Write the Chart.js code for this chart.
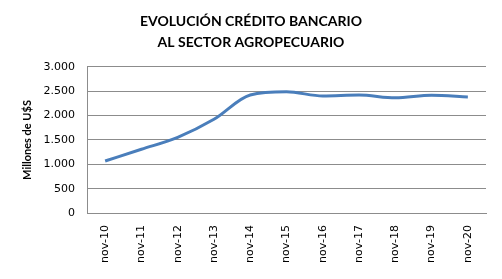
<!DOCTYPE html>
<html>
<head>
<meta charset="utf-8">
<script src="https://cdn.jsdelivr.net/npm/chart.js@4"></script>
<style>
  html, body { margin: 0; padding: 0; background: #fff; }
  #wrap { width: 502px; height: 279px; }
</style>
</head>
<body>
<div id="wrap"><canvas id="myChart" width="502" height="279"></canvas></div>
<script>
// data (millones de U$S)
const categories = ['nov-10', 'nov-11', 'nov-12', 'nov-13', 'nov-14', 'nov-15', 'nov-16', 'nov-17', 'nov-18', 'nov-19', 'nov-20'];
const credito = [1068, 1310, 1555, 1925, 2425, 2490, 2405, 2425, 2365, 2418, 2385];
const yTicks = [0, 500, 1000, 1500, 2000, 2500, 3000];

const gridColor = '#8c8c8c';

var ctx = document.getElementById('myChart').getContext('2d');

var lineChart = new Chart(ctx, {
    type: 'line',
    data: {
        labels: categories,
        datasets: [{
            label: 'Crédito bancario',
            data: credito,
            borderColor: '#4a7ebb',
            borderWidth: 3,
            pointRadius: 0,
            tension: 0.4,
            cubicInterpolationMode: 'monotone',
            fill: false,
        }],
    },
    options: {
        responsive: false,
        animation: false,
        layout: {
            padding: { left: 16, right: 16, top: 0, bottom: 0 }
        },
        plugins: {
            legend: { display: false },
            tooltip: { enabled: false },
            title: {
                display: true,
                text: ['EVOLUCIÓN CRÉDITO BANCARIO', 'AL SECTOR AGROPECUARIO'],
                color: '#000',
                font: { family: 'Lato', size: 14, weight: 'bold', lineHeight: 1.57 },
                padding: { top: 10, bottom: 13 }
            }
        },
        scales: {
            x: {
                offset: true,
                grid: { display: false, drawTicks: false },
                border: { display: true, color: gridColor, width: 1 },
                ticks: {
                    color: '#000',
                    font: { family: 'DejaVu Sans', size: 11 },
                    minRotation: 90,
                    maxRotation: 90,
                    padding: 12,
                    autoSkip: false
                },
                afterFit: function (scale) { scale.height = 66; }
            },
            y: {
                min: 0,
                max: 3000,
                afterBuildTicks: function (scale) {
                    scale.ticks = yTicks.map(v => ({ value: v }));
                },
                grid: { color: gridColor, drawTicks: false, lineWidth: 1 },
                border: { display: true, color: gridColor },
                ticks: {
                    color: '#000',
                    font: { family: 'DejaVu Sans', size: 11 },
                    padding: 12,
                    callback: function (v) {
                        return v.toLocaleString('de-DE');
                    }
                },
                title: {
                    display: true,
                    text: 'Millones de U$S',
                    color: '#000',
                    font: { family: 'Lato', size: 11, weight: 'bold' },
                    padding: { top: 5, bottom: 6 }
                },
                afterFit: function (scale) { scale.width = 71; }
            }
        }
    }
});
</script>
</body>
</html>
